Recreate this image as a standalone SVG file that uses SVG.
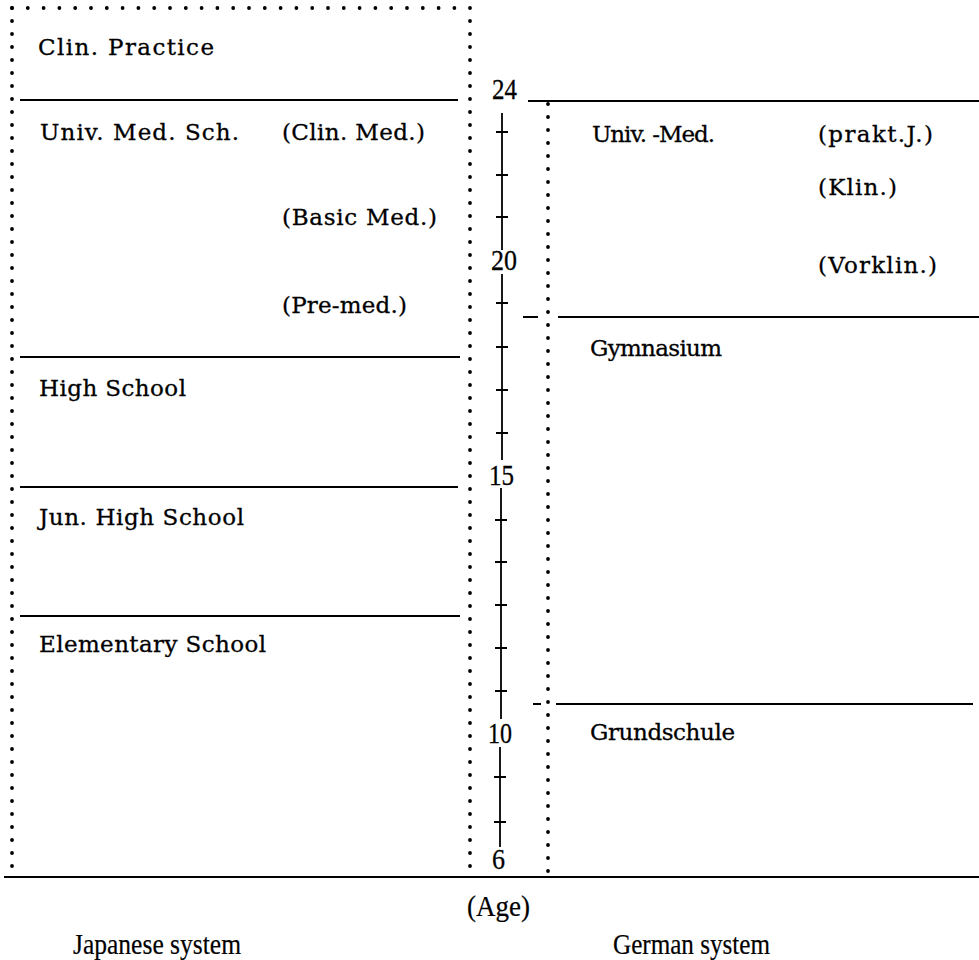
<svg xmlns="http://www.w3.org/2000/svg" width="979" height="960" viewBox="0 0 979 960">
<style>
.bg{fill:#fff}
.ln{stroke:#000;stroke-width:2;fill:none}
.dot{stroke:#000;stroke-width:3.8;stroke-linecap:round;fill:none}
.ax{stroke:#000;stroke-width:1.8;fill:none}
.t{font-family:"DejaVu Serif","Liberation Serif",serif;font-size:23px;fill:#000;stroke:#000;stroke-width:0.3}
.n{font-family:"Liberation Serif",serif;font-size:29px;fill:#000;stroke:#000;stroke-width:0.3}
.c{font-family:"Liberation Serif",serif;font-size:30px;fill:#000;stroke:#000;stroke-width:0.2}
</style>
<rect class="bg" x="0" y="0" width="979" height="960"/>

<g id="japanese-frame">
<path class="dot" d="M12 8 H470" stroke-dasharray="0 15.8"/>
<path class="dot" d="M12 8 V872" stroke-dasharray="0 13"/>
<path class="dot" d="M470 8 V872" stroke-dasharray="0 13"/>
</g>
<g id="german-frame">
<path class="dot" d="M548 104 V872" stroke-dasharray="0 13"/>
</g>

<g id="connectors">
<path class="ln" d="M20 100 H458"/>
<path class="ln" d="M20 357 H460"/>
<path class="ln" d="M20 487 H458"/>
<path class="ln" d="M20 616 H460"/>
<path class="ln" d="M528 101 H979"/>
<path class="ln" d="M523 317 H538 M558 317 H979"/>
<path class="ln" d="M533 704 H541 M556 704 H973"/>
<path class="ln" d="M4 877 H979"/>
</g>

<g id="age-axis">
<path class="ax" d="M502 113 V250 M502 274 V460 M501 488 V719 M500 747 V847"/>
<path class="ax" d="M496 132 H508 M496 175 H508 M496 217 H508 M496 303 H508 M496 347 H508 M496 390 H508 M496 433 H508 M495 520 H507 M495 562 H507 M495 605 H507 M495 648 H507 M495 691 H507 M494 777 H506 M494 822 H506"/>
<text class="n" x="492" y="99" textLength="25" lengthAdjust="spacingAndGlyphs">24</text>
<text class="n" x="491" y="270" textLength="26" lengthAdjust="spacingAndGlyphs">20</text>
<text class="n" x="489" y="485" textLength="25" lengthAdjust="spacingAndGlyphs">15</text>
<text class="n" x="488" y="743" textLength="24" lengthAdjust="spacingAndGlyphs">10</text>
<text class="n" x="492" y="869" textLength="13" lengthAdjust="spacingAndGlyphs">6</text>
<text class="c" x="467" y="916" textLength="63" lengthAdjust="spacingAndGlyphs">(Age)</text>
</g>

<g id="clin-practice"><text class="t" x="38" y="55" textLength="176" lengthAdjust="spacing">Clin. Practice</text></g>
<g id="univ-med-sch">
<text class="t" x="40" y="140" textLength="199" lengthAdjust="spacing">Univ. Med. Sch.</text>
<text class="t" x="282" y="140" textLength="143" lengthAdjust="spacing">(Clin. Med.)</text>
<text class="t" x="282" y="225" textLength="155" lengthAdjust="spacing">(Basic Med.)</text>
<text class="t" x="282" y="313" textLength="125" lengthAdjust="spacing">(Pre-med.)</text>
</g>
<g id="high-school"><text class="t" x="39" y="396" textLength="147" lengthAdjust="spacing">High School</text></g>
<g id="jun-high-school"><text class="t" x="39" y="525" textLength="205" lengthAdjust="spacing">Jun. High School</text></g>
<g id="elementary-school"><text class="t" x="39" y="652" textLength="227" lengthAdjust="spacing">Elementary School</text></g>

<g id="univ-med">
<text class="t" x="592" y="142" textLength="123" lengthAdjust="spacing">Univ. -Med.</text>
<text class="t" x="818" y="142" textLength="115" lengthAdjust="spacing">(prakt.J.)</text>
<text class="t" x="818" y="195" textLength="79" lengthAdjust="spacing">(Klin.)</text>
<text class="t" x="818" y="273" textLength="119" lengthAdjust="spacing">(Vorklin.)</text>
</g>
<g id="gymnasium"><text class="t" x="590" y="356" textLength="132" lengthAdjust="spacing">Gymnasium</text></g>
<g id="grundschule"><text class="t" x="590" y="740" textLength="145" lengthAdjust="spacing">Grundschule</text></g>

<g id="captions">
<text class="c" x="73" y="954" textLength="168" lengthAdjust="spacingAndGlyphs">Japanese system</text>
<text class="c" x="613" y="954" textLength="157" lengthAdjust="spacingAndGlyphs">German system</text>
</g>
</svg>
